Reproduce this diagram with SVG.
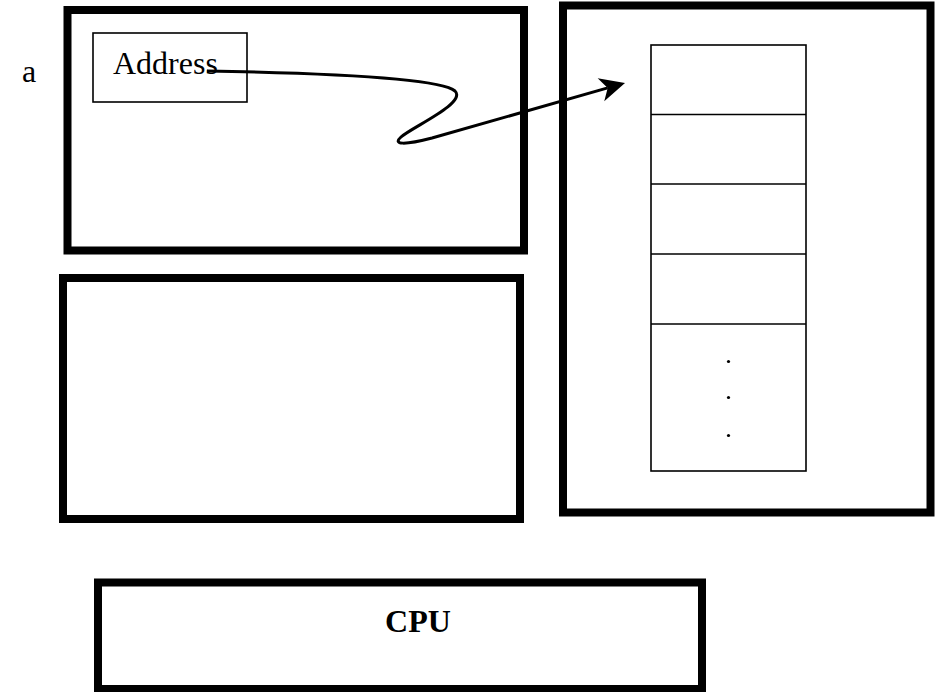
<svg xmlns="http://www.w3.org/2000/svg" width="941" height="692" viewBox="0 0 941 692">
  <style>
    .frame { fill: none; stroke: #000; stroke-width: 8; }
    .thin { fill: none; stroke: #000; stroke-width: 1.6; }
    .label { font-family: "Liberation Serif", "Times New Roman", serif; font-size: 32px; fill: #000; }
    .bold { font-weight: bold; }
    .wire { fill: none; stroke: #000; stroke-width: 3; }
  </style>
  <defs>
    <marker id="arrowhead" markerUnits="userSpaceOnUse" viewBox="-26 -14 46 28" markerWidth="46" markerHeight="28" refX="-18" refY="0" orient="auto">
      <path d="M0,0 L-25,-12 L-18,0 L-25,12 Z" fill="#000"/>
    </marker>
  </defs>
  <rect width="941" height="692" fill="#fff"/>

  <text id="label-a" class="label" x="22" y="82">a</text>

  <g id="process-a">
    <rect class="frame" x="67.5" y="10" width="456.5" height="240.5"/>
    <g id="address">
      <rect class="thin" x="93" y="33" width="154" height="69"/>
      <text class="label" x="113" y="74">Address</text>
    </g>
  </g>

  <g id="process-b">
    <rect class="frame" x="63" y="278" width="457" height="241"/>
  </g>

  <g id="memory">
    <rect class="frame" x="563" y="5.5" width="367.5" height="507"/>
    <g id="cells">
      <rect class="thin" x="651" y="45" width="155" height="426"/>
      <line class="thin" x1="651" y1="114.5" x2="806" y2="114.5"/>
      <line class="thin" x1="651" y1="184" x2="806" y2="184"/>
      <line class="thin" x1="651" y1="254" x2="806" y2="254"/>
      <line class="thin" x1="651" y1="324" x2="806" y2="324"/>
      <circle cx="728.5" cy="361.5" r="1.6" fill="#000"/>
      <circle cx="728.5" cy="397.5" r="1.6" fill="#000"/>
      <circle cx="728.5" cy="435.5" r="1.6" fill="#000"/>
    </g>
  </g>

  <g id="cpu">
    <rect class="frame" x="98" y="582.5" width="604" height="106.5"/>
    <text class="label bold" x="418" y="632" text-anchor="middle">CPU</text>
  </g>

  <g id="connectors">
    <path class="wire" d="M 207,71 C 320,73 440,78 455,91 C 467,103 412,127 401,137 C 392,145 405,145 432,138 L 607.7,87.9" marker-end="url(#arrowhead)"/>
  </g>
</svg>
